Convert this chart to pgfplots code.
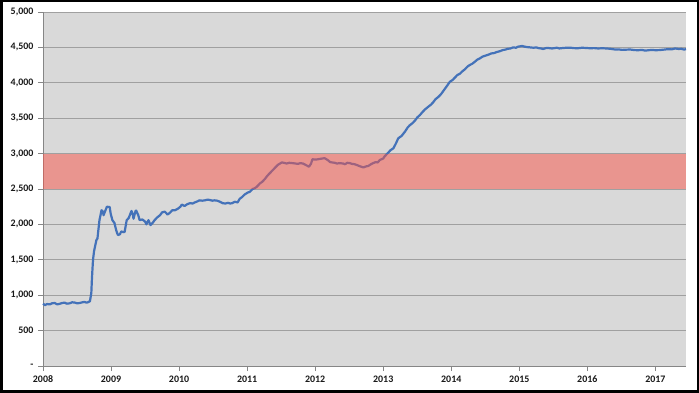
\documentclass[border=0pt]{standalone}
\usepackage{pgfplots}
\pgfplotsset{compat=1.18}
\usepackage{fontspec}
\setmainfont{Carlito}
\definecolor{bgray}{RGB}{217,217,217}
\definecolor{gridc}{RGB}{160,160,160}
\definecolor{axisc}{RGB}{134,134,134}
\definecolor{lineblue}{RGB}{68,114,185}
\definecolor{bandred}{RGB}{249,83,71}
\begin{document}
\begin{tikzpicture}
\useasboundingbox (0bp,0bp) rectangle (699bp,393bp);
\begin{axis}[
  at={(43bp,27bp)}, anchor=south west,
  scale only axis, width=643bp, height=354bp,
  axis background/.style={fill=bgray},
  xmin=2008, xmax=2017.45, ymin=0, ymax=5000,
  xtick={2008,2009,2010,2011,2012,2013,2014,2015,2016,2017},
  xticklabels={2008,2009,2010,2011,2012,2013,2014,2015,2016,2017},
  ytick={0,500,1000,1500,2000,2500,3000,3500,4000,4500,5000},
  yticklabels={-,500,{1,000},{1,500},{2,000},{2,500},{3,000},{3,500},{4,000},{4,500},{5,000}},
  ymajorgrids, grid style={gridc, line width=0.9bp},
  axis x line*=bottom, axis y line*=left,
  axis line style={-, axisc, line width=0.9bp},
  tick align=outside, major tick length=5bp,
  tick style={axisc, line width=0.8bp},
  ticklabel style={font=\bfseries\fontsize{10}{12}\selectfont, text=black!90},
  /pgf/number format/assume math mode=true,
  yticklabel style={xshift=-1bp},
  xticklabel style={yshift=-1bp},
  clip=false,
]
\addplot[lineblue, line width=2.2bp, line join=round] coordinates {
(2008.00,880)(2008.03,860)(2008.06,875)(2008.10,870)(2008.13,885)(2008.17,890)(2008.21,870)(2008.25,880)(2008.28,890)(2008.32,895)(2008.35,880)(2008.39,885)(2008.43,900)(2008.47,895)(2008.50,885)(2008.54,890)(2008.58,900)(2008.61,905)(2008.64,895)(2008.66,900)(2008.69,915)
(2008.71,1030)(2008.72,1250)(2008.735,1500)(2008.75,1620)(2008.785,1780)(2008.80,1800)(2008.83,2060)(2008.86,2200)(2008.88,2180)(2008.89,2130)(2008.91,2180)(2008.94,2250)(2008.98,2245)(2008.995,2150)
(2009.02,2060)(2009.05,2020)(2009.075,1920)(2009.10,1850)(2009.13,1860)(2009.15,1900)(2009.18,1890)(2009.20,1895)(2009.23,2060)(2009.26,2090)(2009.30,2190)(2009.32,2140)(2009.33,2080)(2009.36,2190)(2009.37,2195)(2009.40,2130)(2009.42,2060)(2009.46,2070)(2009.50,2040)(2009.52,2000)(2009.55,2060)(2009.58,1990)(2009.61,2020)(2009.64,2060)(2009.68,2100)(2009.72,2130)(2009.75,2170)(2009.79,2180)(2009.83,2140)(2009.86,2160)(2009.90,2200)(2009.94,2200)(2009.98,2220)
(2010.02,2250)(2010.04,2280)(2010.08,2260)(2010.12,2285)(2010.16,2300)(2010.20,2295)(2010.23,2310)(2010.27,2325)(2010.30,2340)(2010.34,2335)(2010.38,2340)(2010.42,2350)(2010.45,2345)(2010.49,2335)(2010.52,2340)(2010.56,2335)(2010.60,2320)(2010.64,2300)(2010.68,2295)(2010.72,2305)(2010.75,2295)(2010.78,2300)(2010.82,2320)(2010.86,2310)(2010.89,2360)(2010.93,2390)(2010.96,2420)
(2011.01,2450)(2011.04,2460)(2011.08,2500)(2011.11,2510)(2011.14,2530)(2011.19,2580)(2011.22,2600)(2011.26,2640)(2011.30,2690)(2011.33,2720)(2011.37,2760)(2011.40,2790)(2011.45,2840)(2011.51,2875)(2011.54,2870)(2011.58,2860)(2011.62,2870)(2011.67,2865)(2011.71,2860)(2011.75,2855)(2011.78,2865)(2011.82,2860)(2011.86,2840)(2011.91,2815)(2011.94,2860)(2011.96,2920)
(2012.01,2915)(2012.04,2920)(2012.07,2925)(2012.10,2930)(2012.14,2935)(2012.19,2905)(2012.22,2880)(2012.25,2875)(2012.29,2870)(2012.32,2860)(2012.36,2865)(2012.41,2860)(2012.44,2850)(2012.47,2870)(2012.51,2865)(2012.54,2855)(2012.58,2850)(2012.61,2840)(2012.66,2820)(2012.71,2805)(2012.75,2820)(2012.78,2825)(2012.82,2850)(2012.85,2865)(2012.89,2880)(2012.92,2875)(2012.95,2910)
(2013.00,2930)(2013.02,2960)(2013.07,3010)(2013.11,3050)(2013.15,3075)(2013.19,3150)(2013.22,3215)(2013.27,3250)(2013.32,3310)(2013.36,3370)(2013.39,3400)(2013.43,3430)(2013.47,3470)(2013.50,3510)(2013.54,3545)(2013.58,3590)(2013.61,3620)(2013.66,3660)(2013.70,3690)(2013.73,3720)(2013.77,3770)(2013.81,3800)(2013.85,3840)(2013.88,3880)(2013.94,3960)(2013.98,4015)
(2014.02,4040)(2014.05,4070)(2014.09,4110)(2014.13,4130)(2014.16,4160)(2014.20,4190)(2014.24,4230)(2014.27,4250)(2014.31,4270)(2014.35,4300)(2014.38,4325)(2014.42,4345)(2014.46,4370)(2014.49,4380)(2014.54,4395)(2014.59,4415)(2014.63,4420)(2014.67,4435)(2014.71,4445)(2014.76,4463)(2014.80,4470)(2014.83,4480)(2014.87,4485)(2014.91,4500)(2014.95,4495)(2014.98,4510)
(2015.04,4520)(2015.08,4510)(2015.11,4505)(2015.16,4500)(2015.21,4495)(2015.25,4500)(2015.28,4490)(2015.32,4485)(2015.35,4478)(2015.39,4490)(2015.42,4492)(2015.48,4485)(2015.52,4490)(2015.55,4496)(2015.59,4485)(2015.63,4490)(2015.69,4495)(2015.75,4496)(2015.80,4490)(2015.86,4488)(2015.92,4495)(2015.98,4492)
(2016.04,4488)(2016.10,4490)(2016.16,4485)(2016.22,4488)(2016.28,4485)(2016.34,4480)(2016.41,4470)(2016.46,4472)(2016.51,4465)(2016.57,4468)(2016.63,4470)(2016.69,4462)(2016.75,4460)(2016.80,4465)(2016.85,4455)(2016.90,4460)(2016.95,4465)
(2017.00,4460)(2017.06,4462)(2017.12,4468)(2017.18,4475)(2017.24,4472)(2017.29,4485)(2017.34,4478)(2017.38,4480)(2017.42,4470)(2017.45,4475)
};
\addplot[draw=none, fill=bandred, fill opacity=0.5] coordinates {(2008,2500) (2017.45,2500) (2017.45,3000) (2008,3000)} -- cycle;
\end{axis}
\draw[black, line width=2.5bp] (1.25bp,1.25bp) rectangle (697.75bp,391.75bp);
\end{tikzpicture}
\end{document}
